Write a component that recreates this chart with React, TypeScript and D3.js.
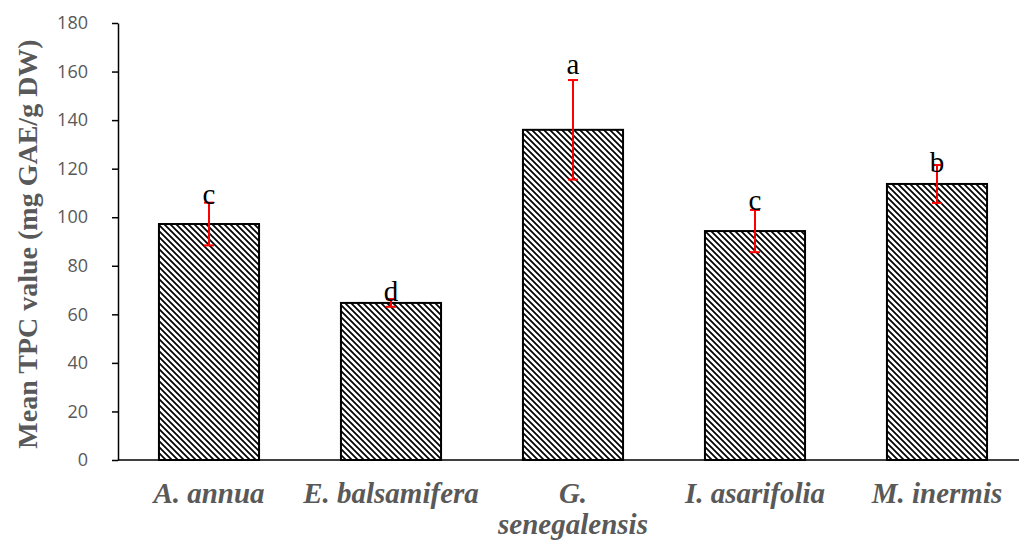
import React, { useEffect, useRef } from 'react';
import * as d3 from 'd3';

const species = ['A. annua', 'E. balsamifera', 'G. senegalensis', 'I. asarifolia', 'M. inermis'];
const meanTpc = [97.2, 64.7, 136.0, 94.3, 113.7];
const errTpc = [8.8, 1.6, 20.5, 8.7, 7.8];
const letters = ['c', 'd', 'a', 'c', 'b'];
const letterAt = [105.6, 65.6, 159, 103, 118.5];
const yTicks = [0, 20, 40, 60, 80, 100, 120, 140, 160, 180];

const width = 1019;
const height = 542;

export default function App() {
    const ref = useRef<SVGSVGElement>(null);

    useEffect(() => {
        const svg = d3.select(ref.current);
        svg.selectAll('*').remove();

        const left = 118;
        const x = d3.scaleBand().domain(species).range([left, 1028]).paddingInner(0.45).paddingOuter(0.225);
        const y = d3.scaleLinear().domain([0, 180]).range([460, 23]);

        // downward diagonal hatch
        const pat = svg.append('defs')
            .append('pattern')
            .attr('id', 'hatch')
            .attr('patternUnits', 'userSpaceOnUse')
            .attr('width', 6)
            .attr('height', 6);
        pat.append('rect').attr('width', 6).attr('height', 6).attr('fill', 'white');
        pat.append('path')
            .attr('d', 'M-1,-1 L7,7 M-1,5 L1,7 M5,-1 L7,1')
            .attr('stroke', 'black')
            .attr('stroke-width', 1.7);

        // bars
        svg.append('g')
            .selectAll('rect')
            .data(species)
            .enter()
            .append('rect')
            .attr('x', (d) => x(d)!)
            .attr('y', (_, i) => y(meanTpc[i]))
            .attr('width', x.bandwidth())
            .attr('height', (_, i) => y(0) - y(meanTpc[i]))
            .attr('fill', 'url(#hatch)')
            .attr('stroke', 'black')
            .attr('stroke-width', 2);

        // axes
        const yAxis = svg.append('g')
            .attr('transform', `translate(${left},0)`)
            .call(d3.axisLeft(y).tickValues(yTicks).tickSize(6).tickSizeOuter(0));
        yAxis.select('.domain').attr('stroke', 'black').attr('stroke-width', 1.5);
        yAxis.selectAll('.tick line').attr('stroke', 'black').attr('stroke-width', 1.5);
        yAxis.selectAll('.tick text')
            .attr('x', -30)
            .attr('fill', '#595959')
            .style('font-family', '"Open Sans", sans-serif')
            .style('font-size', '18px');

        svg.append('line')
            .attr('x1', left)
            .attr('x2', width)
            .attr('y1', y(0))
            .attr('y2', y(0))
            .attr('stroke', 'black')
            .attr('stroke-width', 1.5);

        // error bars
        const eb = svg.append('g').attr('stroke', '#ff0000').attr('stroke-width', 2);
        species.forEach((s, i) => {
            const cx = x(s)! + x.bandwidth() / 2;
            eb.append('line').attr('x1', cx).attr('x2', cx)
                .attr('y1', y(meanTpc[i] + errTpc[i])).attr('y2', y(meanTpc[i] - errTpc[i]));
            [meanTpc[i] + errTpc[i], meanTpc[i] - errTpc[i]].forEach((v) => {
                eb.append('line').attr('x1', cx - 5).attr('x2', cx + 5)
                    .attr('y1', y(v)).attr('y2', y(v));
            });
        });

        // letters
        svg.append('g')
            .selectAll('text')
            .data(species)
            .enter()
            .append('text')
            .attr('x', (d) => x(d)! + x.bandwidth() / 2)
            .attr('y', (_, i) => y(letterAt[i]))
            .attr('text-anchor', 'middle')
            .style('font-family', '"Liberation Serif", serif')
            .style('font-size', '29px')
            .attr('fill', 'black')
            .text((_, i) => letters[i]);

        // category labels
        const lab = svg.append('g')
            .style('font-family', '"Liberation Serif", serif')
            .style('font-size', '29px')
            .style('font-weight', 'bold')
            .style('font-style', 'italic')
            .attr('fill', '#595959')
            .attr('text-anchor', 'middle');
        species.forEach((s) => {
            const cx = x(s)! + x.bandwidth() / 2;
            const parts = s === 'G. senegalensis' ? ['G.', 'senegalensis'] : [s];
            parts.forEach((p, j) => {
                lab.append('text').attr('x', cx).attr('y', 503 + j * 31).text(p);
            });
        });

        // y title
        svg.append('text')
            .attr('transform', `translate(37,244) rotate(-90)`)
            .attr('text-anchor', 'middle')
            .style('font-family', '"Liberation Serif", serif')
            .style('font-size', '28px')
            .style('font-weight', 'bold')
            .attr('fill', '#595959')
            .text('Mean TPC value (mg GAE/g DW)');
    }, []);

    return (
        <svg
            ref={ref}
            width={width}
            height={height}
            style={{ position: 'absolute', left: 0, top: 0, background: 'white' }}
        />
    );
}
